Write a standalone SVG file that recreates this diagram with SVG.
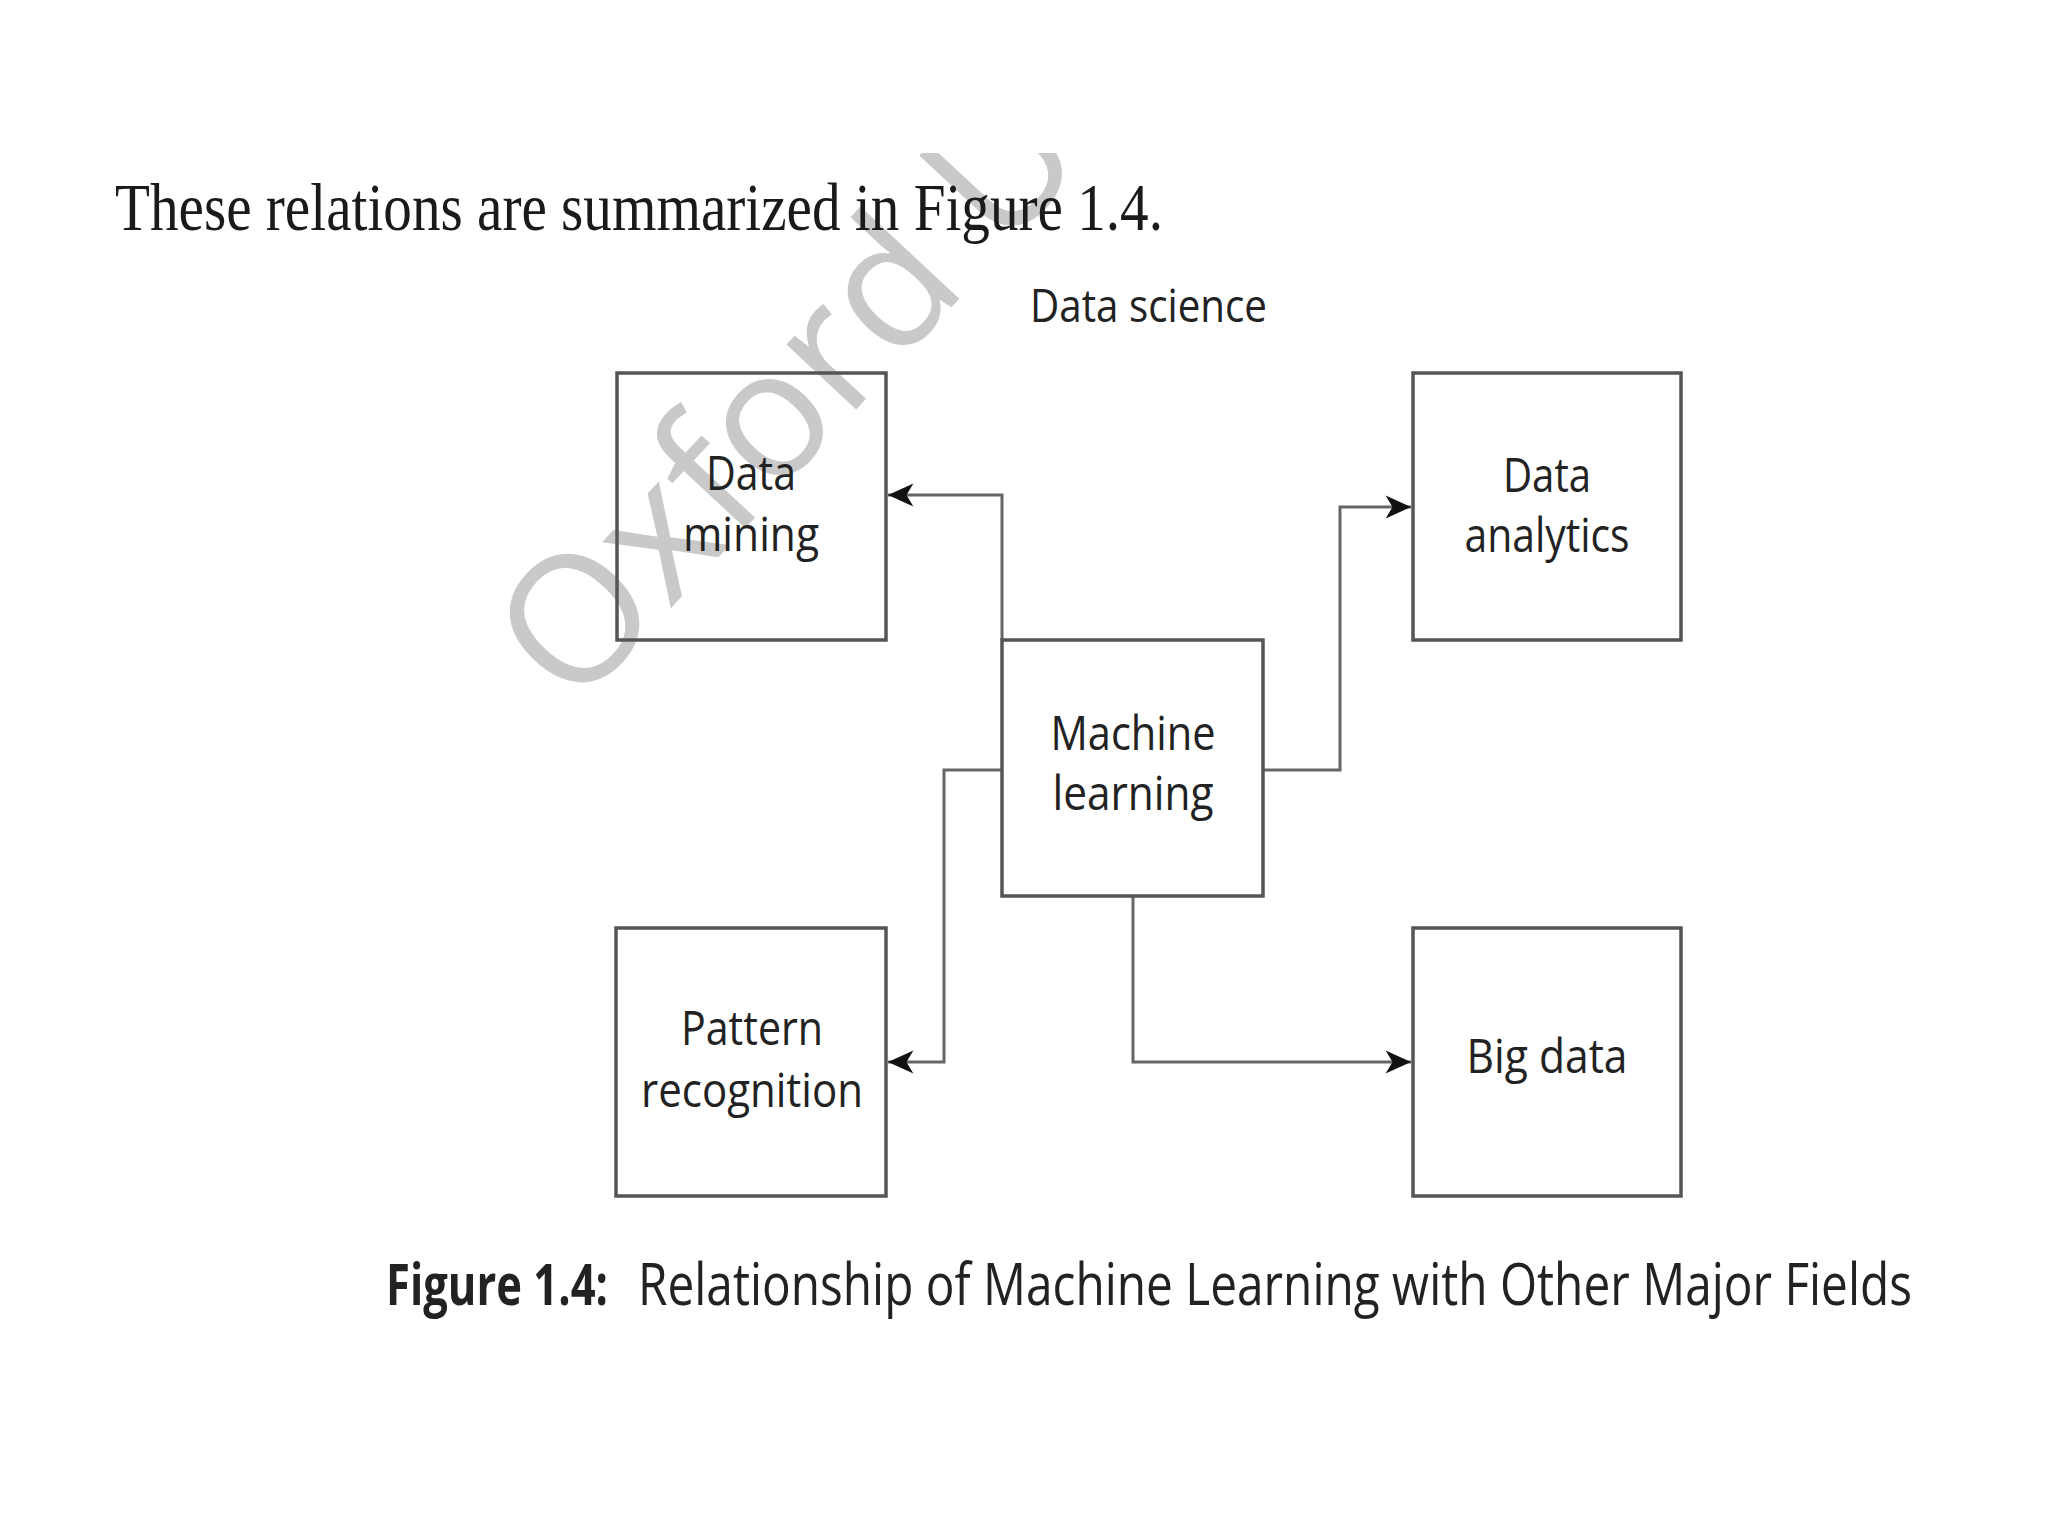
<svg xmlns="http://www.w3.org/2000/svg" width="2048" height="1536" viewBox="0 0 2048 1536">
  <style>
    .box { fill: none; stroke: #555; stroke-width: 3.5; }
    .lbl { font-family: "Open Sans", "Noto Sans", sans-serif; font-size: 48px; fill: #222; text-anchor: middle; }
    .conn { fill: none; stroke: #666; stroke-width: 3; }
    .wm { font-family: "Open Sans", "Noto Sans", sans-serif; font-size: 178px; fill: #c9c9c9; }
  </style>
  <defs>
    <marker id="arr" markerUnits="userSpaceOnUse" markerWidth="30" markerHeight="30" viewBox="-24 -12 26 24" refX="0" refY="0" orient="auto">
      <path d="M0,0 L-22,-10 L-16,0 L-22,10 Z" fill="#111"/>
    </marker>
    <clipPath id="clipTop">
      <rect x="0" y="153" width="2048" height="1383"/>
    </clipPath>
  </defs>
  <rect x="0" y="0" width="2048" height="1536" fill="#fff"/>

  <g id="watermark" clip-path="url(#clipTop)">
    <text class="wm" transform="translate(574,712) rotate(-47)">Oxford U</text>
  </g>

  <text id="intro" x="115" y="230" font-family="Liberation Serif, serif" font-size="68" fill="#1a1a1a" textLength="1048" lengthAdjust="spacingAndGlyphs">These relations are summarized in Figure 1.4.</text>

  <text id="title" x="1030" y="322" font-family="Open Sans, Noto Sans, sans-serif" font-size="45" fill="#222" textLength="237" lengthAdjust="spacingAndGlyphs">Data science</text>

  <g id="connectors">
    <path class="conn" d="M1002,640 V495 H888" marker-end="url(#arr)"/>
    <path class="conn" d="M1263,770 H1340 V507 H1411" marker-end="url(#arr)"/>
    <path class="conn" d="M1002,770 H944 V1062 H888" marker-end="url(#arr)"/>
    <path class="conn" d="M1133,896 V1062 H1411" marker-end="url(#arr)"/>
  </g>

  <g id="data-mining">
    <rect class="box" x="617" y="373" width="269" height="267"/>
    <text class="lbl" x="751" y="490" textLength="90" lengthAdjust="spacingAndGlyphs">Data</text>
    <text class="lbl" x="751" y="551" textLength="136" lengthAdjust="spacingAndGlyphs">mining</text>
  </g>

  <g id="data-analytics">
    <rect class="box" x="1413" y="373" width="268" height="267"/>
    <text class="lbl" x="1547" y="492" textLength="88" lengthAdjust="spacingAndGlyphs">Data</text>
    <text class="lbl" x="1547" y="552" textLength="165" lengthAdjust="spacingAndGlyphs">analytics</text>
  </g>

  <g id="machine-learning">
    <rect class="box" x="1002" y="640" width="261" height="256"/>
    <text class="lbl" x="1133" y="750" textLength="165" lengthAdjust="spacingAndGlyphs">Machine</text>
    <text class="lbl" x="1133" y="810" textLength="161" lengthAdjust="spacingAndGlyphs">learning</text>
  </g>

  <g id="pattern-recognition">
    <rect class="box" x="616" y="928" width="270" height="268"/>
    <text class="lbl" x="752" y="1045" textLength="142" lengthAdjust="spacingAndGlyphs">Pattern</text>
    <text class="lbl" x="752" y="1107" textLength="222" lengthAdjust="spacingAndGlyphs">recognition</text>
  </g>

  <g id="big-data">
    <rect class="box" x="1413" y="928" width="268" height="268"/>
    <text class="lbl" x="1547" y="1073" textLength="161" lengthAdjust="spacingAndGlyphs">Big data</text>
  </g>

  <g id="caption" font-family="Open Sans, Noto Sans, sans-serif" font-size="58" fill="#222">
    <text x="386" y="1305" font-weight="bold" textLength="222" lengthAdjust="spacingAndGlyphs">Figure 1.4:</text>
    <text x="638" y="1305" textLength="1274" lengthAdjust="spacingAndGlyphs">Relationship of Machine Learning with Other Major Fields</text>
  </g>
</svg>
